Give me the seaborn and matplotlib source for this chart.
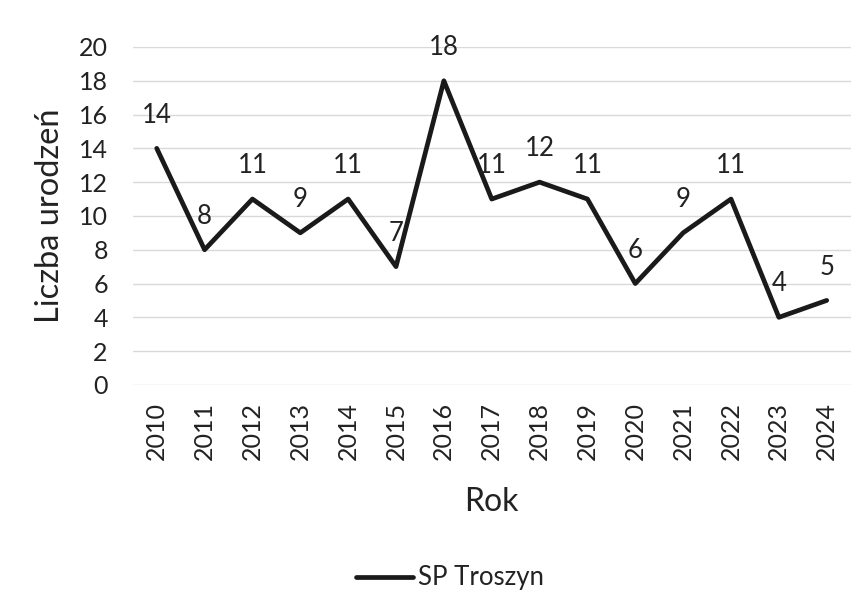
import matplotlib
matplotlib.use("Agg")
import matplotlib.pyplot as plt
import seaborn as sns
import pandas as pd

years = [2010, 2011, 2012, 2013, 2014, 2015, 2016, 2017, 2018, 2019, 2020, 2021, 2022, 2023, 2024]
births = [14, 8, 11, 9, 11, 7, 18, 11, 12, 11, 6, 9, 11, 4, 5]
series_name = "SP Troszyn"
y_ticks = [0, 2, 4, 6, 8, 10, 12, 14, 16, 18, 20]

sns.set_theme(style="white")
plt.rcParams['font.family'] = ['Lato', 'DejaVu Sans']

df = pd.DataFrame({"Rok": [str(y) for y in years], "Liczba": births})

fig = plt.figure(figsize=(8.68, 6.10), dpi=100)
ax = fig.add_axes([0.153, 0.369, 0.827, 0.554])

sns.lineplot(data=df, x="Rok", y="Liczba", ax=ax, color="#1a1a1a", linewidth=3.4,
             label=series_name, sort=False)

for i, v in enumerate(births):
    ax.annotate(str(v), (i, v), xytext=(0, 24), textcoords="offset points",
                ha="center", va="center", fontsize=18.5, color="#222222")

ax.set_ylim(0, 20)
ax.set_xlim(-0.5, len(years) - 0.5)
ax.set_yticks(y_ticks)
ax.yaxis.grid(True, color="#d9d9d9", linewidth=1)
ax.xaxis.grid(False)
for s in ax.spines.values():
    s.set_visible(False)
ax.tick_params(axis="y", labelsize=18, colors="#222222", length=0, pad=18)
ax.tick_params(axis="x", labelsize=18, colors="#222222", length=0, rotation=90, pad=12)
ax.set_xlabel("Rok", fontsize=23, color="#222222", labelpad=20)
ax.set_ylabel("Liczba urodzeń", fontsize=23.5, color="#222222", labelpad=10)

leg = ax.legend(loc="center", bbox_to_anchor=(450 / 868, 1 - 578 / 610),
                bbox_transform=fig.transFigure, frameon=False, fontsize=18.5,
                handlelength=2.2, handletextpad=0.2)
for t in leg.get_texts():
    t.set_color("#222222")

fig.savefig("out.png", dpi=100, facecolor="white")
